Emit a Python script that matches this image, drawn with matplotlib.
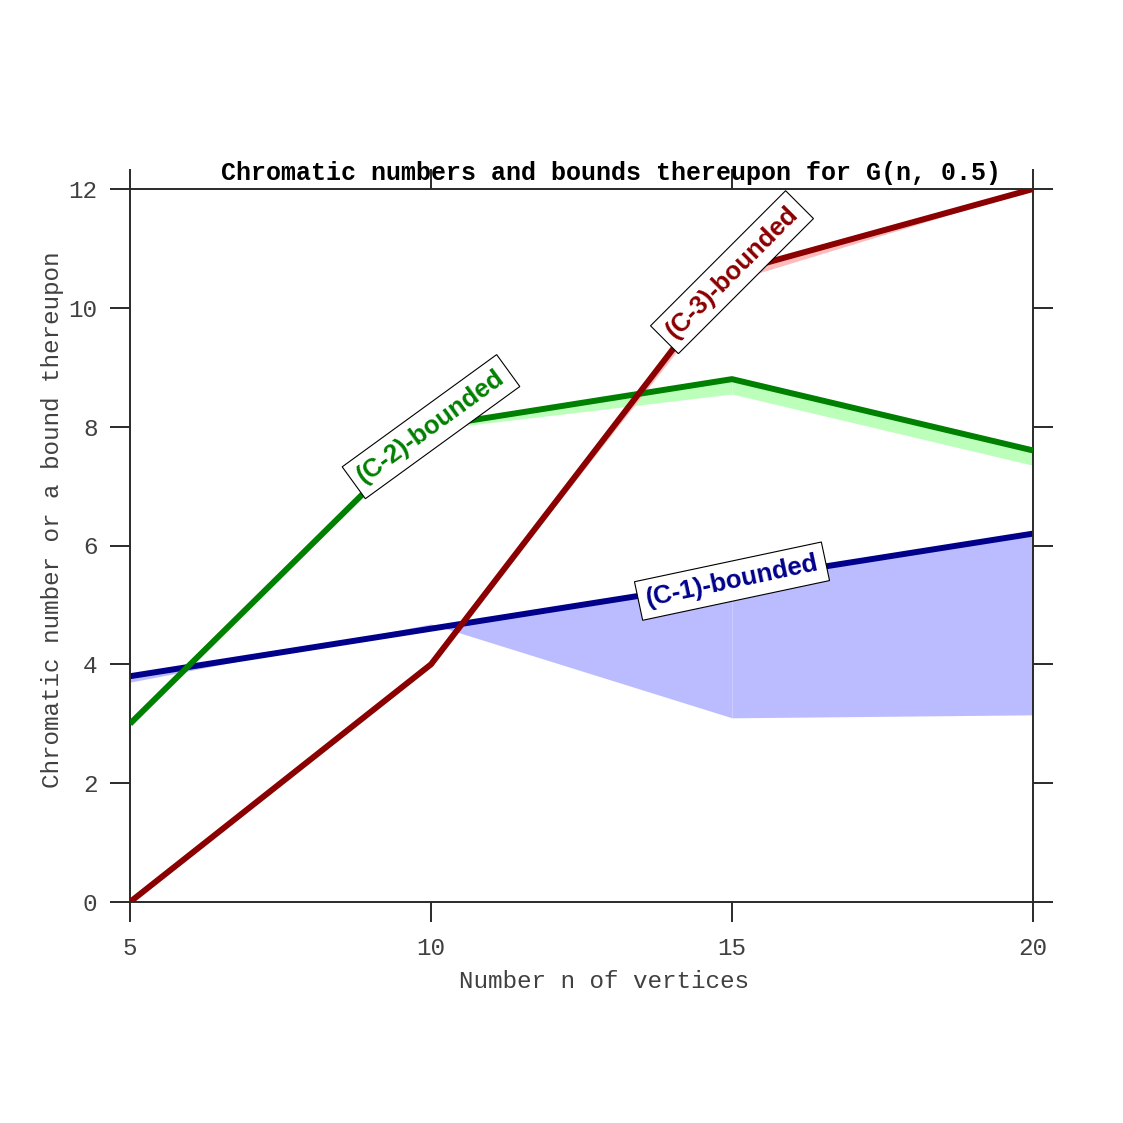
import matplotlib
matplotlib.use("Agg")
import matplotlib.pyplot as plt

# ---- data ----
n_vertices = [5, 10, 15, 20]
c1_bound = [3.8, 4.6, 5.4, 6.2]
c1_lower = [3.7, 4.68, 3.1, 3.15]
c2_bound = [3.0, 8.0, 8.8, 7.6]
c2_lower = [3.0, 7.95, 8.55, 7.35]
c3_bound = [0.0, 4.0, 10.6, 12.0]
c3_lower = [0.0, 4.0, 10.45, 12.0]
labels = ["(C-1)-bounded", "(C-2)-bounded", "(C-3)-bounded"]
label_x = [15, 10, 15]
label_rot = [12, 36, 45]
line_colors = ["#00008B", "#008000", "#8B0000"]
fill_colors = ["#BBBBFF", "#BBFFBB", "#FFBBBB"]
x_ticks = [5, 10, 15, 20]
y_ticks = [0, 2, 4, 6, 8, 10, 12]
title = "Chromatic numbers and bounds thereupon for G(n, 0.5)"
xlabel = "Number n of vertices"
ylabel = "Chromatic number or a bound thereupon"

mono = ["Liberation Mono", "DejaVu Sans Mono"]
sans = ["Liberation Sans", "DejaVu Sans"]
axis_col = "#2a2a2a"
text_col = "#404040"

fig = plt.figure(figsize=(11.23, 11.23), dpi=100)
ax = fig.add_axes([130 / 1123, 1 - 902 / 1123, (1033 - 130) / 1123, (902 - 189) / 1123])

series = [(c1_bound, c1_lower), (c2_bound, c2_lower), (c3_bound, c3_lower)]
for i, (ub, lb) in enumerate(series):
    for k in range(len(n_vertices) - 1):
        ax.fill_between(n_vertices[k:k + 2], lb[k:k + 2], ub[k:k + 2],
                        color=fill_colors[i], linewidth=0, zorder=1)
for i, (ub, lb) in enumerate(series):
    ax.plot(n_vertices, ub, color=line_colors[i], linewidth=4.3, zorder=2 + i,
            solid_capstyle="butt")

for i, (ub, lb) in enumerate(series):
    xv = label_x[i]
    yv = ub[n_vertices.index(xv)]
    ax.text(xv, yv, labels[i], color=line_colors[i], fontsize=18.5,
            fontweight="bold", family=sans, rotation=label_rot[i],
            rotation_mode="anchor", ha="center", va="center", zorder=10,
            bbox=dict(boxstyle="square,pad=0.3", facecolor="white",
                      edgecolor="black", linewidth=0.8))

ax.set_xlim(5, 20)
ax.set_ylim(0, 12)
ax.set_xticks(x_ticks)
ax.set_yticks(y_ticks)
ax.tick_params(axis="both", which="both", direction="out", length=14.4,
               width=1.4, color=axis_col, labelsize=17.5, labelcolor=text_col,
               pad=9, top=True, right=True)
ax.tick_params(axis="x", pad=11)
for lab in ax.get_xticklabels() + ax.get_yticklabels():
    lab.set_family(mono)
for s in ax.spines.values():
    s.set_color(axis_col)
    s.set_linewidth(1.4)
ax.set_xlabel(xlabel, fontsize=17.5, family=mono, color=text_col)
ax.set_ylabel(ylabel, fontsize=17.5, family=mono, color=text_col)
ax.xaxis.set_label_coords((604 - 130) / 903, -(981 - 902) / 713)
ax.xaxis.label.set_va("center")
ax.yaxis.set_label_coords(-(130 - 53) / 903, (902 - 519.5) / 713)
ax.yaxis.label.set_va("center")

fig.text(611 / 1123, 1 - 173 / 1123, title, ha="center", va="center",
         fontsize=18, fontweight="bold", family=mono, color="black")

fig.savefig("out.png", dpi=100, facecolor="white")
